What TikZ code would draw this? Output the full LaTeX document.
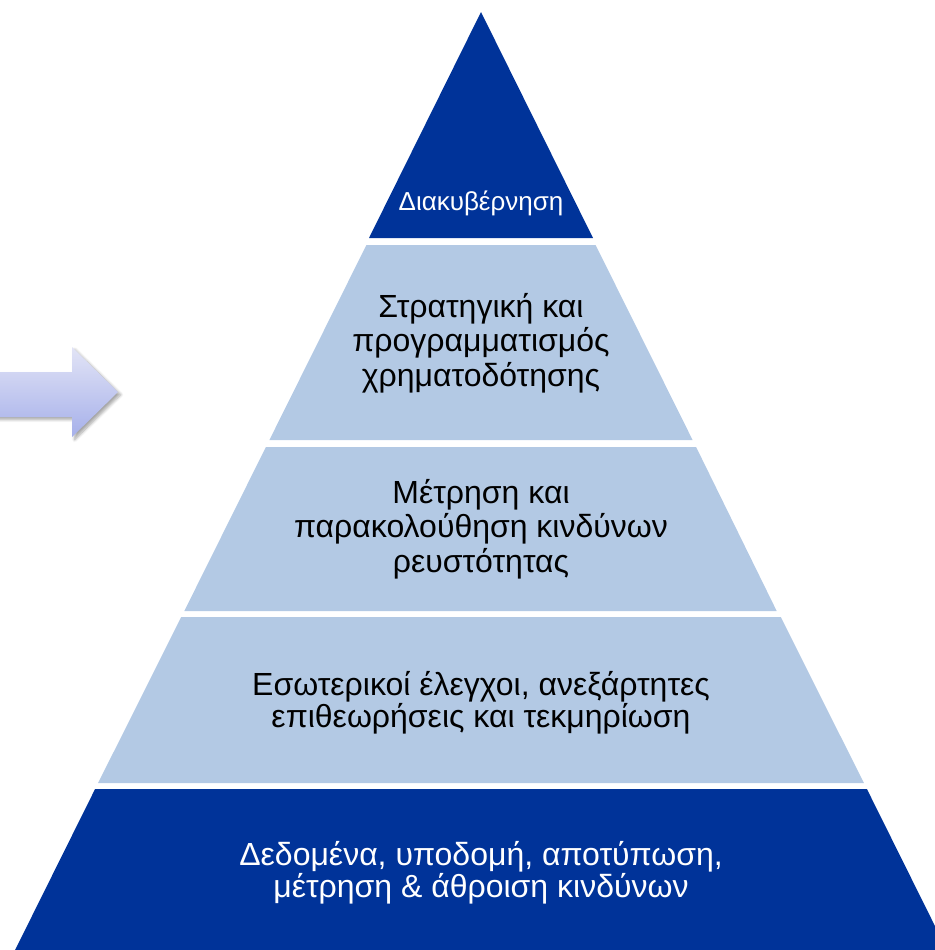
\documentclass[tikz,border=0pt]{standalone}
\usepackage{fontspec}
\setmainfont{Liberation Sans}
\usetikzlibrary{shadows.blur}
\definecolor{darkblue}{RGB}{0,51,153}
\definecolor{lightblue}{RGB}{179,201,228}
\definecolor{arrtop}{RGB}{226,228,246}
\definecolor{arrbot}{RGB}{166,176,234}
\begin{document}
\begin{tikzpicture}[x=0.75pt,y=-0.75pt,
  dark/.style={fill=darkblue,draw=none},
  light/.style={fill=lightblue,draw=none},
  lbl/.style={align=center,font=\fontsize{24}{26}\selectfont,text=black},
  lblw/.style={align=center,font=\fontsize{24}{24}\selectfont,text=white}]
\useasboundingbox (0,0) rectangle (935,950);
\begin{scope}
\clip (0,0) rectangle (935,950);
% layers: half width = 0.4956*(y-12), apex x=481
\fill[dark] (481,12) -- (593,238) -- (369,238) -- cycle;
\fill[light] (366.4,245) -- (595.6,245) -- (692.6,440) -- (269.4,440) -- cycle;
\fill[light] (265.9,447) -- (696.1,447) -- (776.7,611) -- (184.3,611) -- cycle;
\fill[light] (181.2,617) -- (780.8,617) -- (863.9,783) -- (98.1,783) -- cycle;
\fill[dark] (95.1,789) -- (866.9,789) -- (946.9,950) -- (15.1,950) -- cycle;
% arrow
\shade[top color=arrtop,bottom color=arrbot,blur shadow={shadow xshift=2pt,shadow yshift=-2pt,shadow blur steps=6,shadow opacity=35}]
  (-5,372) -- (72,372) -- (72,347) -- (118,392) -- (72,437) -- (72,417) -- (-5,417) -- cycle;
\end{scope}
\node[lblw,font=\fontsize{19.5}{22}\selectfont] (gov) at (481,203) {Διακυβέρνηση};
\node[lbl] (strat) at (481,343) {Στρατηγική και\\προγραμματισμός\\χρηματοδότησης};
\node[lbl] (meas) at (481,529) {Μέτρηση και\\παρακολούθηση κινδύνων\\ρευστότητας};
\node[lbl,font=\fontsize{24}{24}\selectfont] (ctrl) at (481,703) {Εσωτερικοί έλεγχοι, ανεξάρτητες\\επιθεωρήσεις και τεκμηρίωση};
\node[lblw] (data) at (481,873) {Δεδομένα, υποδομή, αποτύπωση,\\μέτρηση \& άθροιση κινδύνων};
\end{tikzpicture}
\end{document}
